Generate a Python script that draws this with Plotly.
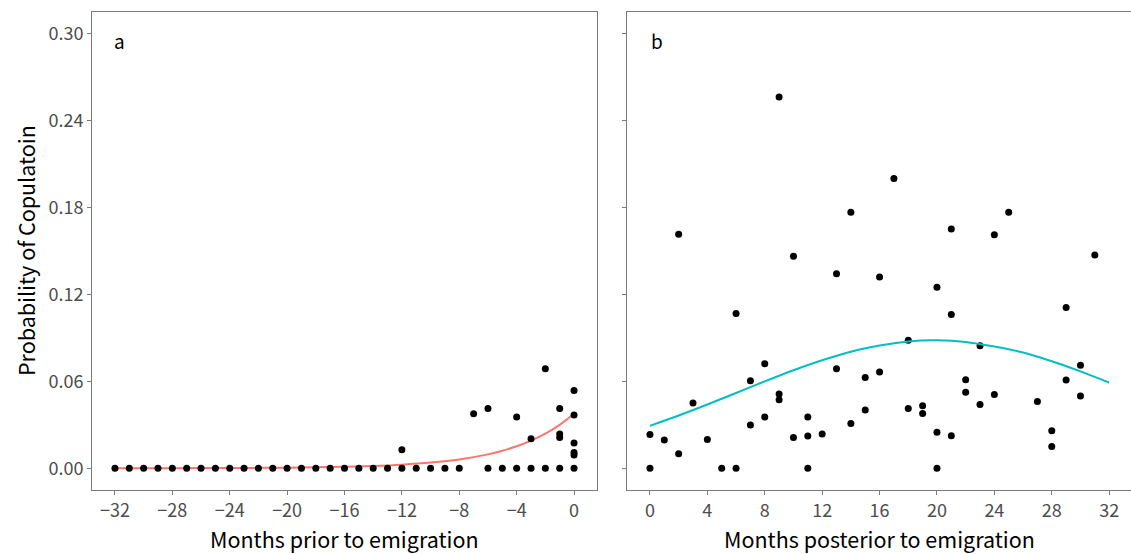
import plotly.graph_objects as go

# ---- Panel a: months before emigration ----
pre_month = [-32, -31, -30, -29, -28, -27, -26, -25, -24, -23, -22, -21, -20,
             -19, -18, -17, -16, -15, -14, -13, -12, -11, -10, -9, -8,
             -12, -7, -6, -6, -5, -4, -4, -3, -3, -2, -2,
             -1, -1, -1, -1, 0, 0, 0, 0, 0, 0]
pre_prob = [0, 0, 0, 0, 0, 0, 0, 0, 0, 0, 0, 0, 0,
            0, 0, 0, 0, 0, 0, 0, 0, 0, 0, 0, 0,
            0.0128, 0.0376, 0.0413, 0, 0, 0.0354, 0, 0.0204, 0, 0.0687, 0,
            0.0413, 0.0236, 0.0212, 0, 0.0537, 0.0367, 0.0174, 0.0109, 0.0091, 0]

# fitted probability curve, panel a
pre_fit_month = [-32, -28, -24, -20, -16, -14, -12, -10, -8, -6, -5, -4, -3, -2, -1, 0]
pre_fit_prob = [0.0000, 0.0001, 0.0002, 0.0004, 0.0010, 0.0016, 0.0025, 0.0039,
                0.0061, 0.0096, 0.0121, 0.0152, 0.0191, 0.0239, 0.0300, 0.0376]

# ---- Panel b: months after emigration ----
post_month = [0, 0, 1, 2, 2, 3, 4, 5, 6, 6, 7, 7, 8, 8, 9, 9, 9, 10, 10,
              11, 11, 11, 12, 13, 13, 14, 14, 15, 15, 16, 16, 17, 18, 18,
              19, 19, 20, 20, 20, 21, 21, 21, 22, 22, 23, 23, 24, 24, 25,
              27, 28, 28, 29, 29, 30, 30, 31]
post_prob = [0.0234, 0, 0.0195, 0.1615, 0.0100, 0.0450, 0.0199, 0, 0.1069, 0,
             0.0604, 0.0298, 0.0722, 0.0354, 0.2564, 0.0512, 0.0473, 0.1463, 0.0213,
             0.0354, 0.0222, 0, 0.0236, 0.1343, 0.0687, 0.1767, 0.0309, 0.0627, 0.0402,
             0.1320, 0.0664, 0.2001, 0.0883, 0.0413,
             0.0432, 0.0379, 0.1249, 0.0248, 0, 0.1652, 0.1062, 0.0224,
             0.0611, 0.0524, 0.0846, 0.0441, 0.1613, 0.0510, 0.1767,
             0.0461, 0.0259, 0.0151, 0.1110, 0.0609, 0.0712, 0.0499, 0.1472]

# fitted probability curve, panel b
post_fit_month = [0, 2, 4, 6, 8, 10, 12, 14, 16, 18, 20, 22, 24, 26, 28, 30, 32]
post_fit_prob = [0.0293, 0.0364, 0.0440, 0.0520, 0.0600, 0.0677, 0.0746, 0.0805,
                 0.0847, 0.0876, 0.0883, 0.0872, 0.0840, 0.0799, 0.0739, 0.0669, 0.0592]

y_ticks = [0.00, 0.06, 0.12, 0.18, 0.24, 0.30]
y_tick_text = ["0.00", "0.06", "0.12", "0.18", "0.24", "0.30"]
pre_ticks = [-32, -28, -24, -20, -16, -12, -8, -4, 0]
post_ticks = [0, 4, 8, 12, 16, 20, 24, 28, 32]

W, H = 1131, 554
ML, MT, MB = 92, 12, 64
plot_w = W - ML
a_end = (597 - ML) / plot_w
b_start = (627 - ML) / plot_w

border = "#7a7a7a"
tick_font = dict(family="Noto Sans CJK JP", size=18, color="#4d4d4d")
title_font = dict(family="Noto Sans CJK JP", size=21.5, color="black")
panel_font = dict(family="Noto Sans CJK JP", size=19, color="black")

fig = go.Figure()

fig.add_trace(go.Scatter(x=pre_fit_month, y=pre_fit_prob, mode="lines",
                         line=dict(color="#F8766D", width=2, shape="spline", smoothing=0.8),
                         xaxis="x", yaxis="y", showlegend=False, hoverinfo="skip"))
fig.add_trace(go.Scatter(x=pre_month, y=pre_prob, mode="markers",
                         marker=dict(color="black", size=7),
                         xaxis="x", yaxis="y", showlegend=False))
fig.add_trace(go.Scatter(x=post_month, y=post_prob, mode="markers",
                         marker=dict(color="black", size=7),
                         xaxis="x2", yaxis="y2", showlegend=False))
fig.add_trace(go.Scatter(x=post_fit_month, y=post_fit_prob, mode="lines",
                         line=dict(color="#00BFC4", width=2, shape="spline", smoothing=0.8),
                         xaxis="x2", yaxis="y2", showlegend=False, hoverinfo="skip"))

y_range = [-0.015, 0.315]
common_x = dict(showgrid=False, zeroline=False, showline=True, mirror=True,
                linecolor=border, linewidth=1, ticks="outside", ticklen=4,
                tickcolor=border, tickfont=tick_font)

fig.update_layout(
    width=W, height=H,
    margin=dict(l=ML, r=0, t=MT, b=MB),
    paper_bgcolor="white", plot_bgcolor="white",
    xaxis=dict(domain=[0, a_end], range=[-33.6, 1.6], tickvals=pre_ticks,
               ticktext=[str(t).replace("-", "\u2212") for t in pre_ticks],
               anchor="y", **common_x),
    xaxis2=dict(domain=[b_start, 1], range=[-1.6, -1.6 + 504 / 14.35],
                tickvals=post_ticks, ticktext=[str(t) for t in post_ticks],
                anchor="y2", **common_x),
    yaxis=dict(domain=[0, 1], range=y_range, tickvals=y_ticks, ticktext=y_tick_text,
               showgrid=False, zeroline=False, showline=True, mirror=True,
               linecolor=border, linewidth=1, ticks="outside", ticklen=4,
               tickcolor=border, tickfont=tick_font, anchor="x"),
    yaxis2=dict(domain=[0, 1], range=y_range, tickvals=y_ticks, showticklabels=False,
                showgrid=False, zeroline=False, showline=True, mirror=False,
                linecolor=border, linewidth=1, ticks="outside", ticklen=4,
                tickcolor=border, anchor="x2"),
)

annotations = [
    dict(text="a", xref="x domain", yref="y domain", x=0.055, y=0.941,
         xanchor="center", yanchor="middle", showarrow=False, font=panel_font),
    dict(text="b", xref="x2 domain", yref="y2 domain", x=0.06, y=0.941,
         xanchor="center", yanchor="middle", showarrow=False, font=panel_font),
    dict(text="Months prior to emigration", xref="x domain", yref="paper",
         x=0.5, y=0, yshift=-48, xanchor="center", yanchor="middle",
         showarrow=False, font=title_font),
    dict(text="Months posterior to emigration", xref="x2 domain", yref="paper",
         x=0.5, y=0, yshift=-48, xanchor="center", yanchor="middle",
         showarrow=False, font=title_font),
    dict(text="Probability of Copulatoin", xref="paper", yref="paper",
         x=0, y=0.5, xshift=-67, xanchor="center", yanchor="middle",
         textangle=-90, showarrow=False, font=title_font),
]
fig.update_layout(annotations=annotations)

fig.write_html("out.html")
